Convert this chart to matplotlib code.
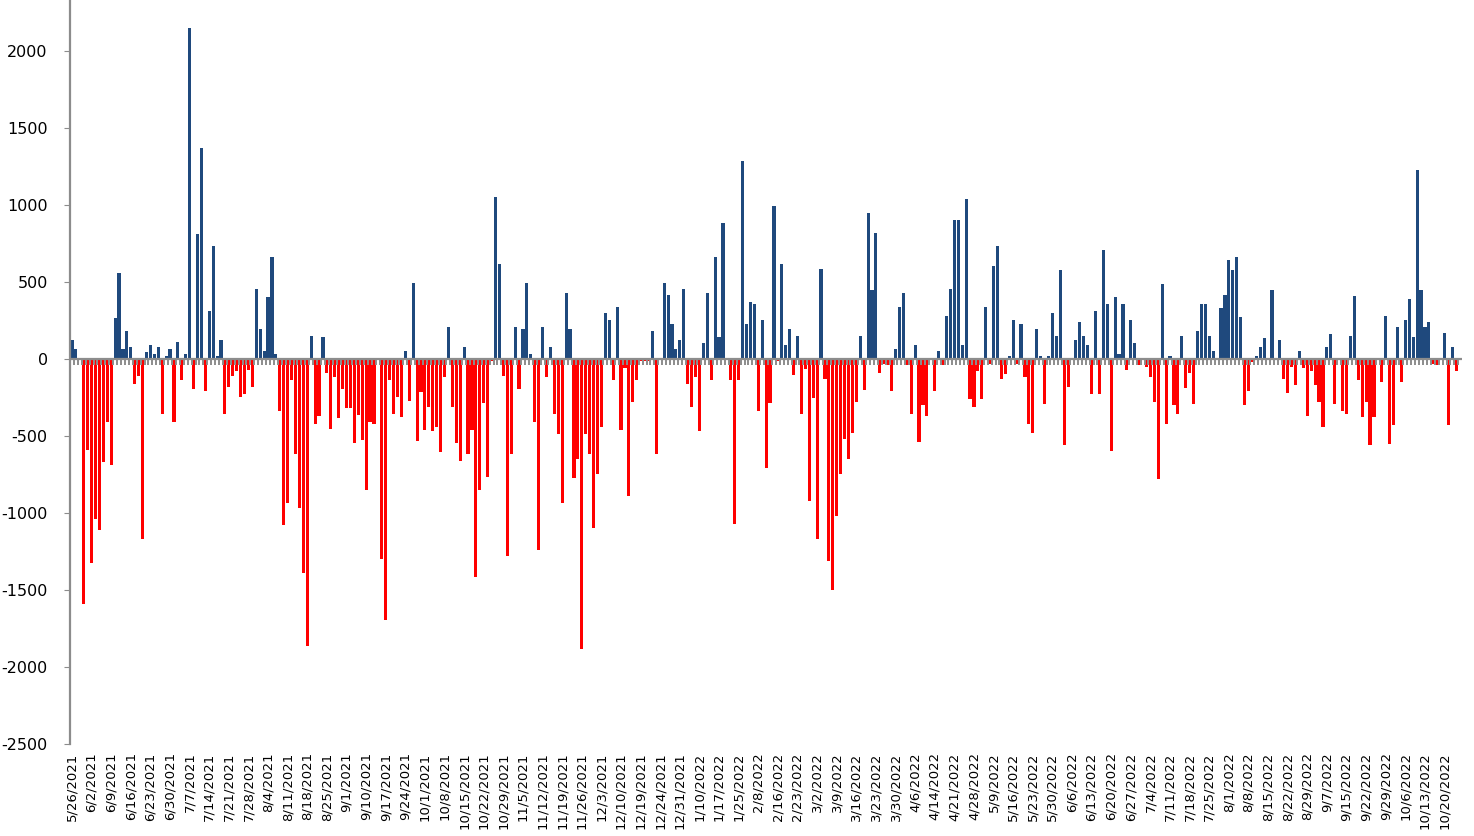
import numpy as np
import matplotlib
matplotlib.use("Agg")
from matplotlib import pyplot as plt

plt.rcParams["axes.unicode_minus"] = False

# daily net flow, one value per trading day
values = [
    125, 65, 0, -1590, -590, -1325, -1040, -1110, -670, -410,
    -690, 268, 560, 65, 180, 80, -165, -110, -1170, 47,
    90, 35, 80, -355, 20, 65, -410, 108, -135, 30,
    2150, -195, 810, 1370, -210, 310, 735, 20, 120, -355,
    -180, -110, -80, -250, -225, -70, -180, 455, 195, 50,
    400, 660, 35, -340, -1080, -935, -140, -615, -965, -1390,
    -1865, 150, -425, -370, 140, -90, -455, -120, -385, -195,
    -320, -320, -545, -365, -525, -850, -410, -425, 0, -1300,
    -1695, -135, -355, -250, -375, 50, -270, 490, -530, -215,
    -460, -315, -470, -445, -605, -120, 210, -315, -545, -660,
    80, -615, -460, -1415, -850, -285, -765, -15, 1050, 615,
    -110, -1280, -615, 210, -195, 195, 490, 35, -410, -1240,
    210, -120, 80, -355, -490, -935, 430, 195, -775, -650,
    -1880, -490, -615, -1095, -745, -440, 300, 255, -135, 340,
    -460, -60, -890, -280, -135, -15, -15, -15, 180, -615,
    -10, 490, 415, 225, 65, 120, 455, -165, -315, -120,
    -470, 105, 430, -135, 660, 140, 880, 0, -135, -1070,
    -135, 1285, 225, 370, 355, -340, 255, -705, -285, 995,
    -15, 615, 90, 195, -105, 150, -360, -65, -920, -255,
    -1170, 585, -130, -1310, -1500, -1020, -750, -520, -650, -480,
    -280, 150, -200, 950, 445, 820, -90, -30, -40, -210,
    65, 340, 430, -40, -360, 90, -540, -300, -370, 0,
    -210, 50, -40, 280, 455, 905, 905, 90, 1040, -260,
    -310, -80, -260, 340, -30, 600, 735, -130, -100, 20,
    255, -30, 225, -120, -420, -480, 195, 20, -290, 20,
    295, 150, 575, -560, -180, 0, 120, 240, 150, 90,
    -230, 310, -230, 705, 355, -600, 400, 30, 355, -70,
    255, 105, -40, 0, -50, -120, -280, -780, 485, -420,
    20, -300, -360, 150, -190, -90, -290, 180, 355, 355,
    150, 50, 0, 330, 415, 645, 575, 660, 270, -300,
    -210, -20, 20, 80, 135, 0, 445, 0, 120, -130,
    -220, -50, -170, 50, -60, -370, -80, -170, -280, -440,
    80, 165, -290, 0, -340, -360, 150, 410, -140, -380,
    -280, -560, -380, 0, -150, 280, -550, -430, 210, -150,
    255, 390, 140, 1225, 445, 210, 240, -30, -40, 0,
    170, -430, 80, -80, 0,
]

# every fifth category carries a date label
tick_labels = [
    "5/26/2021", "6/2/2021", "6/9/2021", "6/16/2021", "6/23/2021", "6/30/2021",
    "7/7/2021", "7/14/2021", "7/21/2021", "7/28/2021", "8/4/2021", "8/11/2021",
    "8/18/2021", "8/25/2021", "9/1/2021", "9/10/2021", "9/17/2021", "9/24/2021",
    "10/1/2021", "10/8/2021", "10/15/2021", "10/22/2021", "10/29/2021",
    "11/5/2021", "11/12/2021", "11/19/2021", "11/26/2021", "12/3/2021",
    "12/10/2021", "12/19/2021", "12/24/2021", "12/31/2021", "1/10/2022",
    "1/17/2022", "1/25/2022", "2/8/2022", "2/16/2022", "2/23/2022", "3/2/2022",
    "3/9/2022", "3/16/2022", "3/23/2022", "3/30/2022", "4/6/2022", "4/14/2022",
    "4/21/2022", "4/28/2022", "5/9/2022", "5/16/2022", "5/23/2022", "5/30/2022",
    "6/6/2022", "6/13/2022", "6/20/2022", "6/27/2022", "7/4/2022", "7/11/2022",
    "7/18/2022", "7/25/2022", "8/1/2022", "8/8/2022", "8/15/2022", "8/22/2022",
    "8/29/2022", "9/7/2022", "9/15/2022", "9/22/2022", "9/29/2022", "10/6/2022",
    "10/13/2022", "10/20/2022",
]

BLUE = "#1f497d"
RED = "#ff0000"
GREY = "#8c8c8c"

vals = np.array(values, dtype=float)
x = np.arange(len(vals))
colors = np.where(vals >= 0, BLUE, RED)

fig = plt.figure(figsize=(14.74, 8.36), dpi=100)
ax = fig.add_axes([0.0475, 0.110, 0.9445, 0.890])

ax.bar(x, vals, width=0.8, color=colors, linewidth=0)

# category axis sits on zero, with a short tick below it between categories
ax.axhline(0, color=GREY, lw=1.6, zorder=3)
ax.plot(x - 0.5, np.zeros(len(x)), ls="none", marker=3, ms=4, mew=1.4,
        color=GREY, zorder=3)

ax.set_xlim(-0.5, len(vals) - 0.5)
ax.set_ylim(-2500, 2330)
ax.set_yticks(np.arange(-2500, 2001, 500))
ax.tick_params(axis="y", direction="out", length=4, color=GREY, labelsize=11.5,
               pad=12)
ax.set_xticks(x[::5][:len(tick_labels)])
ax.set_xticklabels(tick_labels, rotation=90, fontsize=9.5)
ax.tick_params(axis="x", length=0, pad=6)

for side in ["top", "right", "bottom"]:
    ax.spines[side].set_visible(False)
ax.spines["left"].set_color(GREY)
ax.spines["left"].set_linewidth(1.6)

fig.savefig("out.png", dpi=100)
